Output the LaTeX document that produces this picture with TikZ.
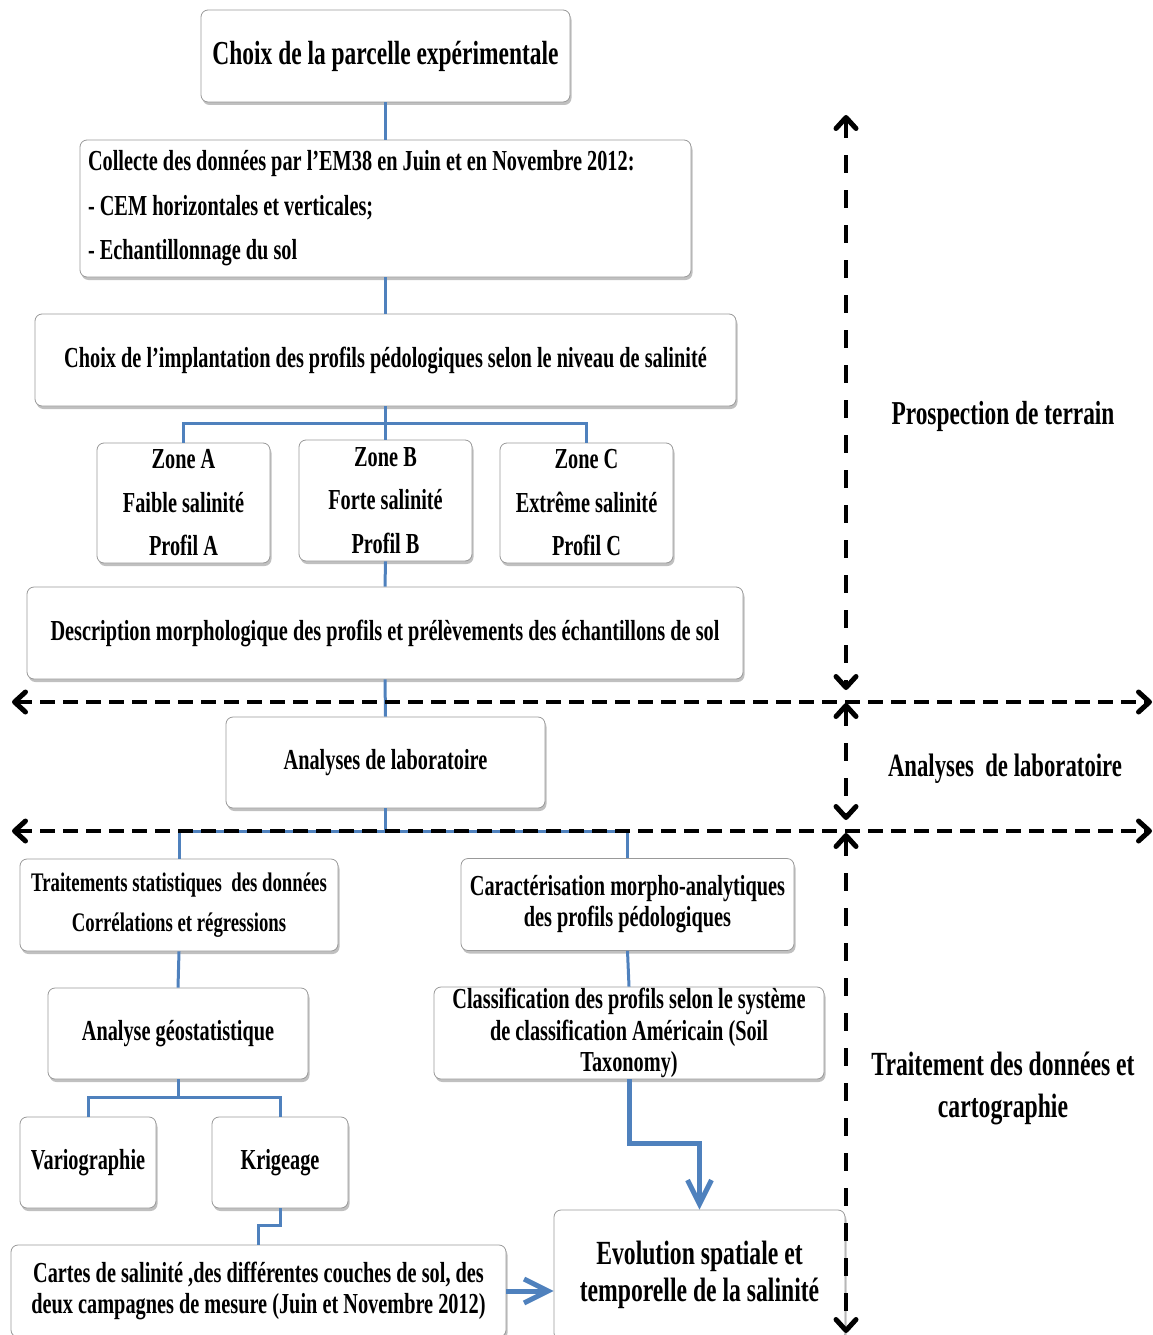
\documentclass[tikz,border=0pt]{standalone}
\usepackage{fontspec}
\setmainfont[FakeStretch=0.7]{Liberation Serif}
\usetikzlibrary{arrows.meta,shadows}
\definecolor{bleulien}{RGB}{79,129,189}
\newcommand{\taille}[2]{\fontsize{#1}{#2}\selectfont\bfseries}
\begin{document}
\begin{tikzpicture}[x=1pt, y=-1pt,
    boite/.style={draw=black!40, line width=0.8pt, fill=white, rounded corners=7pt,
      align=flush center, inner sep=0pt,
      drop shadow={shadow xshift=1.5pt, shadow yshift=-3pt, opacity=0.45, fill=black!55}},
    lien/.style={draw=bleulien, line width=3pt},
    fleche/.style={bleulien, line width=5pt, -{Straight Barb[length=24pt, width=24pt, line width=5pt]}},
    pointe/.tip={Straight Barb[length=11pt, width=20pt, line width=5pt, round]},
    limite/.style={line width=4pt, dash pattern=on 15pt off 8pt, pointe-pointe},
    axe/.style={line width=3.5pt, dash pattern=on 18pt off 17pt, pointe-pointe}]
    \useasboundingbox (0,0) rectangle (1153,1335);
    % prospection de terrain
    \node[boite, minimum width=369, minimum height=92, font=\taille{33.5}{38}] (parcelle) at (385.5,56) {Choix de la parcelle expérimentale};
    \node[boite, minimum width=611, minimum height=137, text width=595, inner xsep=8, align=flush left, font=\taille{29}{44.5}] (collecte) at (385.5,208.5)
        {Collecte des données par l’EM38 en Juin et en Novembre 2012:\\- CEM horizontales et verticales;\\- Echantillonnage du sol};
    \node[boite, minimum width=701, minimum height=92, font=\taille{29}{32}] (implant) at (385.5,360) {Choix de l’implantation des profils pédologiques selon le niveau de salinité};
    \node[boite, minimum width=173, minimum height=120, font=\taille{29}{43.5}] (zoneA) at (183.5,503) {Zone A\\Faible salinité\\Profil A};
    \node[boite, minimum width=173, minimum height=121, font=\taille{29}{43.5}] (zoneB) at (385.5,500.5) {Zone B\\Forte salinité\\Profil B};
    \node[boite, minimum width=173, minimum height=120, font=\taille{29}{43.5}] (zoneC) at (586.5,503) {Zone C\\Extrême salinité\\Profil C};
    \node[boite, minimum width=716, minimum height=92, font=\taille{29}{32}] (descr) at (385,633) {Description morphologique des profils et prélèvements des échantillons de sol};
    % laboratoire
    \node[boite, minimum width=319, minimum height=91, font=\taille{29}{32}] (labo) at (385.5,762.5) {Analyses de laboratoire};
    % traitement et cartographie
    \node[boite, minimum width=318, minimum height=92, font=\taille{26.8}{40}] (stat) at (179,905) {Traitements statistiques\ \ des données\\Corrélations et régressions};
    \node[boite, minimum width=333, minimum height=92, font=\taille{29}{31}] (caract) at (627.5,904.5) {Caractérisation morpho-analytiques\\des profils pédologiques};
    \node[boite, minimum width=260, minimum height=91, font=\taille{29}{32}] (geostat) at (178,1033.5) {Analyse géostatistique};
    \node[boite, minimum width=390, minimum height=92, font=\taille{29}{31.5}] (classif) at (629,1033) {Classification des profils selon le système\\de classification Américain (Soil\\Taxonomy)};
    \node[boite, minimum width=136, minimum height=91, font=\taille{29}{32}] (vario) at (88,1162.5) {Variographie};
    \node[boite, minimum width=136, minimum height=91, font=\taille{29}{32}] (krig) at (280,1162.5) {Krigeage};
    \node[boite, minimum width=495, minimum height=92, font=\taille{29}{31}] (cartes) at (258.5,1291) {Cartes de salinité ,des différentes couches de sol, des\\deux campagnes de mesure (Juin et Novembre 2012)};
    \node[boite, minimum width=291, minimum height=130, font=\taille{33.8}{37}] (evol) at (699.5,1275) {Evolution spatiale et\\temporelle de la salinité};
    % etiquettes des phases
    \node[font=\taille{33.4}{42}] (prosp) at (1003,416) {Prospection de terrain};
    \node[font=\taille{32.5}{42}] (phlabo) at (1005,769) {Analyses\ \ de laboratoire};
    \node[font=\taille{33.8}{42}, align=flush center] (phtrait) at (1003,1088) {Traitement des données et\\cartographie};
    % liens
    \draw[lien] (parcelle.south) -- (collecte.north);
    \draw[lien] (collecte.south) -- (implant.north);
    \draw[lien] (implant.south) -- ++(0,17) coordinate (fourche) -| (zoneA.north)
        (fourche) -| (zoneC.north) (fourche) -- (zoneB.north);
    \draw[lien] (zoneB.south) -- (descr.north);
    \draw[lien] (descr.south) -- (labo.north);
    \draw[lien] (labo.south) -- ++(0,23) coordinate (fourche2) -| (stat.north)
        (fourche2) -| (caract.north);
    \draw[lien] (stat.south) -- (geostat.north);
    \draw[lien] (caract.south) -- (classif.north);
    \draw[lien] (geostat.south) -- ++(0,18) coordinate (fourche3) -| (vario.north)
        (fourche3) -| (krig.north);
    \draw[lien] (krig.south) -- ++(0,17) -| (cartes.north);
    \draw[fleche] (classif.south) -- ++(0,64) -| (evol.north);
    \draw[fleche] (cartes.east) -- (cartes.east -| evol.west);
    % limites des phases
    \coordinate (g1) at (12,702);  \coordinate (d1) at (1152,702);
    \coordinate (g2) at (12,831);  \coordinate (d2) at (1152,831);
    \coordinate (h1) at (846,115); \coordinate (b1) at (846,690);
    \coordinate (h2) at (846,703); \coordinate (b2) at (846,820);
    \coordinate (h3) at (846,833); \coordinate (b3) at (846,1333);
    \draw[limite] (g1) -- (d1);
    \draw[limite] (g2) -- (d2);
    \draw[axe] (h1) -- (b1);
    \draw[axe] (h2) -- (b2);
    \draw[axe] (h3) -- (b3);
\end{tikzpicture}
\end{document}
